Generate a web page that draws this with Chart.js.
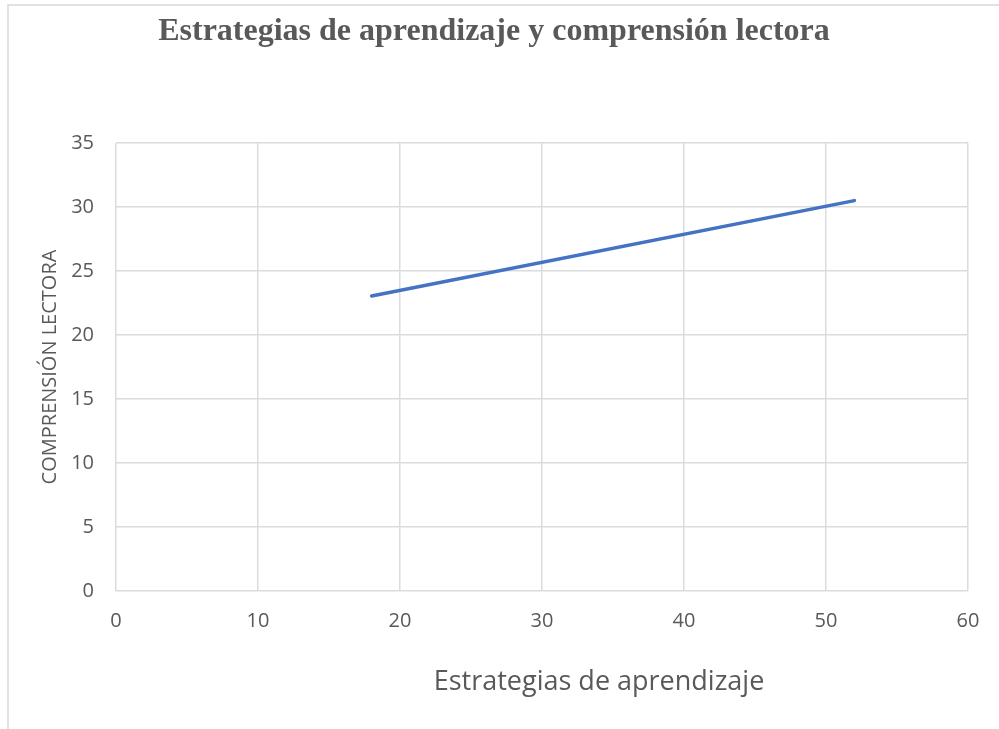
<!DOCTYPE html>
<html>
<head>
<meta charset="utf-8">
<script src="https://cdn.jsdelivr.net/npm/chart.js@4.4.0/dist/chart.umd.min.js"></script>
<style>
  html, body { margin: 0; padding: 0; background: #fff; }
  #wrap { width: 999px; height: 729px; }
</style>
</head>
<body>
<div id="wrap"><canvas id="chartTrend"></canvas></div>
<script>
// trendline endpoints
const xValues = [18, 52];
const yValues = [23.05, 30.5];
const xTicks = [0, 10, 20, 30, 40, 50, 60];
const yTicks = [0, 5, 10, 15, 20, 25, 30, 35];

const chartTitle = 'Estrategias de aprendizaje y comprensión lectora';
const xTitle = 'Estrategias de aprendizaje';
const yTitle = 'COMPRENSIÓN LECTORA';

const textColor = '#595959';
const gridColor = '#dcdcdc';

// frame + title + x axis title
const decor = {
  id: 'decor',
  beforeDraw(chart) {
    const ctx = chart.ctx;
    ctx.save();
    ctx.strokeStyle = '#d9d9d9';
    ctx.lineWidth = 1.5;
    ctx.strokeRect(8, 5, 1100, 1000);
    ctx.restore();
  },
  afterDraw(chart) {
    const ctx = chart.ctx;
    const area = chart.chartArea;
    ctx.save();
    ctx.fillStyle = textColor;
    ctx.textAlign = 'center';
    ctx.textBaseline = 'middle';
    ctx.font = 'bold 32px "Liberation Serif", "Times New Roman", serif';
    ctx.fillText(chartTitle, 494, 32);
    ctx.font = '27px "Open Sans", sans-serif';
    ctx.fillText(xTitle, (area.left + area.right) / 2 + 57, 682);
    ctx.restore();
  }
};

const trend = new Chart(
  document.getElementById('chartTrend'),
  {
    type: 'scatter',
    data: {
      datasets: [{
        data: xValues.map((x, i) => ({ x: x, y: yValues[i] })),
        showLine: true,
        borderColor: '#4472C4',
        borderWidth: 3.5,
        pointRadius: 0,
        borderCapStyle: 'round',
        fill: false
      }]
    },
    options: {
      responsive: true,
      maintainAspectRatio: false,
      animation: false,
      layout: {
        padding: { left: 0, right: 31, top: 143, bottom: 0 }
      },
      plugins: {
        legend: { display: false },
        title: { display: false },
        tooltip: { enabled: false }
      },
      scales: {
        x: {
          type: 'linear',
          min: 0,
          max: 60,
          afterBuildTicks: (scale) => { scale.ticks = xTicks.map(v => ({ value: v })); },
          afterFit: (scale) => { scale.height = 138; },
          grid: { color: gridColor, lineWidth: 1.5, drawTicks: false },
          border: { display: false },
          ticks: {
            color: textColor,
            padding: 18,
            font: { family: '"Open Sans", sans-serif', size: 20 }
          }
        },
        y: {
          type: 'linear',
          min: 0,
          max: 35,
          afterBuildTicks: (scale) => { scale.ticks = yTicks.map(v => ({ value: v })); },
          afterFit: (scale) => { scale.width = 116; },
          grid: { color: gridColor, lineWidth: 1.5, drawTicks: false },
          border: { display: false },
          ticks: {
            color: textColor,
            padding: 22,
            font: { family: '"Open Sans", sans-serif', size: 20 }
          },
          title: {
            display: true,
            text: yTitle,
            color: textColor,
            padding: { top: 38, bottom: 0 },
            font: { family: '"Open Sans", sans-serif', size: 20 }
          }
        }
      }
    },
    plugins: [decor]
  });
</script>
</body>
</html>
